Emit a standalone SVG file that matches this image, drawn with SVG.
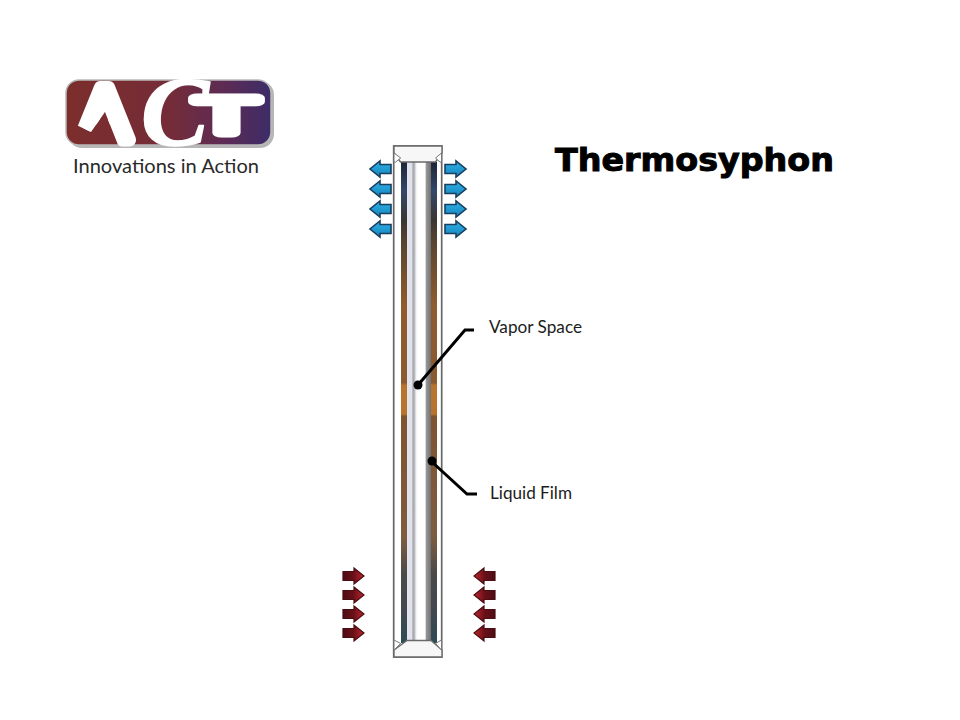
<svg xmlns="http://www.w3.org/2000/svg" width="960" height="720" viewBox="0 0 960 720">
<style>
.lbl{font-family:"Lato","Liberation Sans",sans-serif;font-size:17px;fill:#1c1c1c}
.lead{fill:none;stroke:#000;stroke-width:3}
.coldL{fill:url(#coldGL);stroke:#1a3f5e;stroke-width:1.6}
.coldR{fill:url(#coldGR);stroke:#1a3f5e;stroke-width:1.6}
.hotL{fill:url(#hotGL);stroke:#4a0d12;stroke-width:1.2}
.hotR{fill:url(#hotGR);stroke:#4a0d12;stroke-width:1.2}
.cap{fill:#f7f7f7;stroke:#6a6a6a;stroke-width:1.4}
.logoW{fill:#fff;stroke:#fff;stroke-linejoin:round}
</style>
<defs>
<linearGradient id="logoG" x1="0" x2="1" y1="0" y2="0"><stop offset="0" stop-color="#7c2e2c"/><stop offset=".5" stop-color="#752c38"/><stop offset=".78" stop-color="#5c2b55"/><stop offset="1" stop-color="#3c2c68"/></linearGradient>
<linearGradient id="wall" gradientUnits="userSpaceOnUse" x1="0" x2="0" y1="162" y2="642"><stop offset="0" stop-color="#1c2536"/><stop offset=".06" stop-color="#34486a"/><stop offset=".12" stop-color="#3a3634"/><stop offset=".17" stop-color="#5a4530"/><stop offset=".3" stop-color="#8f5c2e"/><stop offset=".46" stop-color="#8a5a30"/><stop offset=".465" stop-color="#b8742c"/><stop offset=".525" stop-color="#b8742c"/><stop offset=".53" stop-color="#7e5430"/><stop offset=".78" stop-color="#7e5c40"/><stop offset=".86" stop-color="#4a4a4a"/><stop offset=".93" stop-color="#434850"/><stop offset="1" stop-color="#2e4a55"/></linearGradient>
<linearGradient id="vapor" x1="0" x2="1" y1="0" y2="0"><stop offset="0" stop-color="#e2e4ee"/><stop offset=".2" stop-color="#dfe2ec"/><stop offset=".25" stop-color="#a2a2a6"/><stop offset=".31" stop-color="#b8b8bc"/><stop offset=".38" stop-color="#f2f2f4"/><stop offset=".45" stop-color="#fff"/><stop offset=".76" stop-color="#fff"/><stop offset=".79" stop-color="#999"/><stop offset="1" stop-color="#707070"/></linearGradient>
<linearGradient id="coldGL" x1="0" x2="0" y1="0" y2="1"><stop offset="0" stop-color="#2fb2e8"/><stop offset="1" stop-color="#1584bd"/></linearGradient>
<linearGradient id="coldGR" x1="0" x2="0" y1="0" y2="1"><stop offset="0" stop-color="#2fb2e8"/><stop offset="1" stop-color="#1584bd"/></linearGradient>
<linearGradient id="hotGR" x1="0" x2="1" y1="0" y2="0"><stop offset="0" stop-color="#4d0c14"/><stop offset=".5" stop-color="#6a1018"/><stop offset="1" stop-color="#c0262e"/></linearGradient>
<linearGradient id="hotGL" x1="1" x2="0" y1="0" y2="0"><stop offset="0" stop-color="#4d0c14"/><stop offset=".5" stop-color="#6a1018"/><stop offset="1" stop-color="#c0262e"/></linearGradient>
<clipPath id="lambda"><path d="M60 70H150V150H120L105 112L91 132L70 122Z"/></clipPath>
<path id="arrR" d="M0-4.500H11V-8L21 0L11 8V4.500H0Z"/>
<path id="arrL" d="M21-4.500H10V-8L0 0L10 8V4.500H21Z"/>
</defs>
<g id="logo">
<rect x="68" y="81" width="206" height="67" rx="14" fill="#8f8f8f" opacity=".65"/>
<rect x="66" y="80" width="205" height="65" rx="13" fill="url(#logoG)" stroke="#b9b9b9" stroke-width="1.500"/>
<text class="logoW" clip-path="url(#lambda)" x="79" y="140" font-family="Liberation Sans,sans-serif" font-size="76" stroke-width="13">A</text>
<text class="logoW" x="141" y="145" font-family="Liberation Serif,serif" font-weight="700" font-style="italic" font-size="100" stroke-width="1.500" textLength="68" lengthAdjust="spacingAndGlyphs">C</text>
<text class="logoW" x="195" y="133" font-family="Liberation Sans,sans-serif" font-size="50" stroke-width="9" textLength="63" lengthAdjust="spacingAndGlyphs">T</text>
<text x="73" y="173" font-family="Lato,Liberation Sans,sans-serif" font-size="20" fill="#2a2a2a" textLength="186" lengthAdjust="spacingAndGlyphs">Innovations in Action</text>
</g>
<g id="title"><text x="555" y="171" font-family="DejaVu Sans,Liberation Sans,sans-serif" font-weight="700" font-size="32" fill="#000" stroke="#000" stroke-width="1" textLength="279" lengthAdjust="spacingAndGlyphs">Thermosyphon</text></g>
<g id="tube">
<rect x="393.700" y="146" width="48" height="511" fill="#fff" stroke="#666" stroke-width="1.700"/>
<rect x="401" y="162" width="36" height="481" fill="url(#wall)"/>
<rect x="407" y="162" width="24" height="479" fill="url(#vapor)"/>
<path class="cap" d="M394 146H442V153L435.500 162H400.500L394 153Z"/>
<path class="cap" d="M394 657H442V650L431 640.500H407L394 650Z"/>
<path d="M394 153L400.700 158L395.700 162H394Z M441.500 153L435.500 158L440 162H441.500Z M394 640L400.700 643.500L394 650Z M441.500 640L435.500 643.500L441.500 650Z" fill="#fff" stroke="#777" stroke-width="1"/>
</g>
<g id="cooling">
<use href="#arrL" class="coldL" x="370" y="169"/><use href="#arrL" class="coldL" x="370" y="189"/><use href="#arrL" class="coldL" x="370" y="209"/><use href="#arrL" class="coldL" x="370" y="229"/>
<use href="#arrR" class="coldR" x="445" y="169"/><use href="#arrR" class="coldR" x="445" y="189"/><use href="#arrR" class="coldR" x="445" y="209"/><use href="#arrR" class="coldR" x="445" y="229"/>
</g>
<g id="heating">
<use href="#arrR" class="hotR" x="343" y="576"/><use href="#arrR" class="hotR" x="343" y="595"/><use href="#arrR" class="hotR" x="343" y="614"/><use href="#arrR" class="hotR" x="343" y="633"/>
<use href="#arrL" class="hotL" x="474" y="576"/><use href="#arrL" class="hotL" x="474" y="595"/><use href="#arrL" class="hotL" x="474" y="614"/><use href="#arrL" class="hotL" x="474" y="633"/>
</g>
<g id="connectors">
<path class="lead" d="M474 330H465L418 385"/><circle cx="418" cy="385" r="4.500"/>
<path class="lead" d="M477 494H467L432 462"/><circle cx="432" cy="461" r="4.500"/>
</g>
<g id="vapor-space"><text class="lbl" x="489" y="333" textLength="93" lengthAdjust="spacingAndGlyphs">Vapor Space</text></g>
<g id="liquid-film"><text class="lbl" x="490" y="499" textLength="82" lengthAdjust="spacingAndGlyphs">Liquid Film</text></g>
</svg>
